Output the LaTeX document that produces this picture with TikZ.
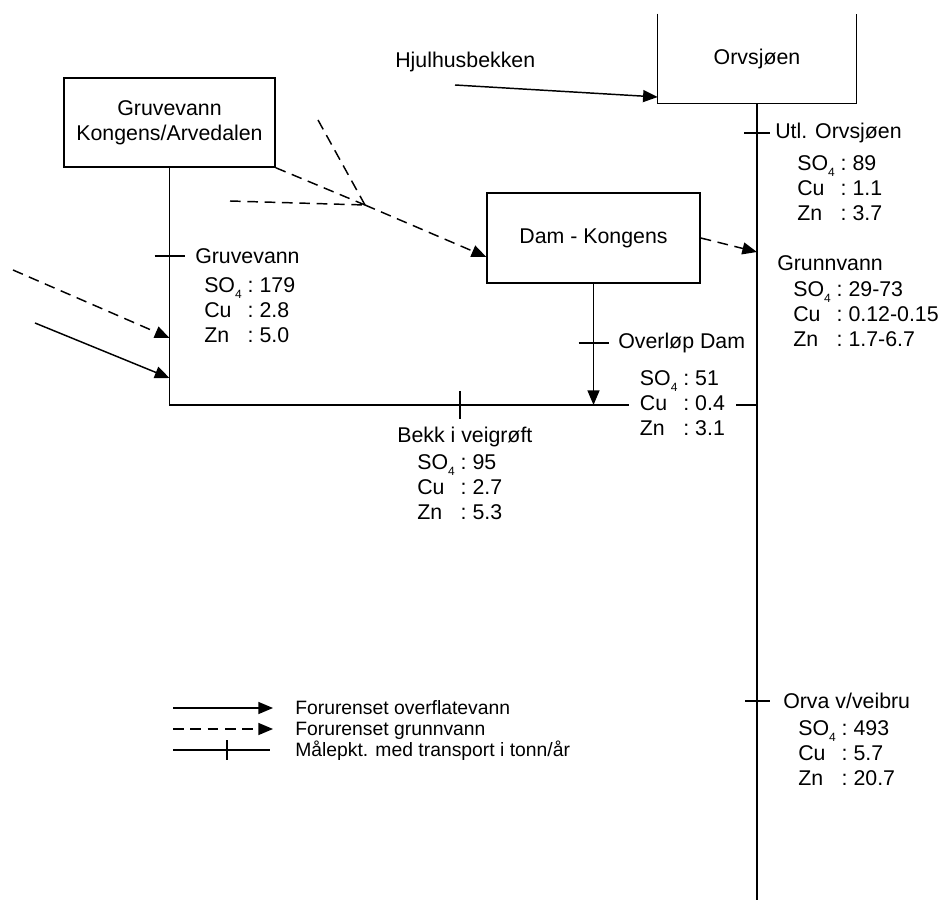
\documentclass[tikz,border=0pt]{standalone}
\usepackage{fontspec}
\setmainfont{Liberation Sans}
\usetikzlibrary{arrows.meta}

\newcommand{\sofire}{SO\raisebox{-0.55ex}{\fontsize{9}{9}\selectfont 4}}
\newcommand{\maaldata}[3]{\begin{tabular}{@{}l@{\ :\ }l@{}}\sofire & #1\\ Cu & #2\\ Zn & #3\end{tabular}}

\tikzset{
  linje/.style={line width=1.1pt},
  boks/.style={draw, line width=1.1pt, align=center, inner sep=0pt},
  flyt/.style={linje, -{Triangle[length=11pt,width=9pt]}},
  stiplet/.style={linje, dash pattern=on 8pt off 5pt},
  grunn/.style={stiplet, -{Triangle[length=11pt,width=9pt]}},
  tekst/.style={inner sep=0pt, anchor=west},
  data/.style={inner sep=0pt, anchor=north west},
  forklaring/.style={inner sep=0pt, anchor=base west, font=\fontsize{14.5}{16}\selectfont},
}

\begin{document}
\begin{tikzpicture}[x=0.75pt,y=0.75pt,yscale=-1,xscale=1, every node/.append style={font=\fontsize{16}{18.75}\selectfont}]
\useasboundingbox (0,0) rectangle (943,909);

%Shape: Rectangle [Gruvevann]
\node[boks, minimum width=158.25pt, minimum height=66.75pt] (gruve) at (169.5,122.5) {Gruvevann\\Kongens/Arvedalen};
%Shape: Rectangle [Dam]
\node[boks, minimum width=159.75pt, minimum height=67.5pt] (dam) at (593.5,238) {Dam - Kongens};
%Shape: open box [Orvsjoen]
\node[inner sep=0pt, minimum width=148.5pt, minimum height=66.75pt] (orv) at (757,58.5) {Orvsjøen};
\draw[linje] (orv.north west) -- (orv.south west) -- (orv.south east) -- (orv.north east);

% coordinates
\coordinate (bunn) at (757,900);
\coordinate (hjorne) at (gruve.south |- 0,405);
\coordinate (samlet) at (orv.south |- 0,405);
\coordinate (damut) at (dam.south |- 0,405);
\coordinate (knekk) at (365,205);
\coordinate (g1) at (318,120);
\coordinate (g2) at (230,201);
\coordinate (grunnpkt) at (757,252);
\coordinate (v1) at (13,270);
\coordinate (inn1) at (gruve.south |- 0,338);
\coordinate (v2) at (35,323);
\coordinate (inn2) at (gruve.south |- 0,378);
\coordinate (h1) at (455,85);
\coordinate (hinn) at (orv.south west |- 0,97);

%Straight Lines
\draw[linje] (orv.south) -- (bunn);
\draw[linje] (gruve.south) -- (hjorne) -- (samlet);
\draw[flyt] (dam.south) -- (damut);
\draw[flyt] (h1) -- (hinn);
\draw[flyt] (v2) -- (inn2);
\draw[grunn] (v1) -- (inn1);
%Dashed Lines
\draw[stiplet] (gruve.south east) -- (knekk);
\draw[stiplet] (g1) -- (knekk);
\draw[stiplet] (g2) -- (knekk);
\draw[grunn] (knekk) -- (dam.190);
\draw[grunn] (dam.east) -- (grunnpkt);

%Ticks
\coordinate (mGruve) at (gruve.south |- 0,256);
\coordinate (mOverlop) at (dam.south |- 0,343);
\coordinate (mBekk) at (460,405);
\coordinate (mUtl) at (757,133);
\coordinate (mOrva) at (757,701);
\draw[linje] (mGruve) ++(-15,0) -- ++(30,0);
\draw[linje] (mOverlop) ++(-15,0) -- ++(30,0);
\draw[linje] (mBekk) ++(0,-14) -- ++(0,28);
\draw[linje] (mUtl) ++(-13,0) -- ++(26,0);
\draw[linje] (mOrva) ++(-12,0) -- ++(25,0);

% Text Node
\node[tekst] (hjul) at (395,62) {Hjulhusbekken};
% Text Node
\node[tekst] (tGruve) at (195,256) {Gruvevann};
\node[data] (dGruve) at (204,275) {\maaldata{179}{2.8}{5.0}};
% Text Node
\node[tekst] (tUtl) at (775,133) {Utl. Orvsjøen};
\node[data] (dUtl) at (797,153) {\maaldata{89}{1.1}{3.7}};
% Text Node
\node[tekst] (tGrunn) at (777,263) {Grunnvann};
\node[data] (dGrunn) at (793,279) {\maaldata{29-73}{0.12-0.15}{1.7-6.7}};
% Text Node
\node[tekst] (tOverlop) at (618,343) {Overløp Dam};
\node[data, fill=white, inner xsep=8pt] (dOverlop) at (629,368) {\maaldata{51}{0.4}{3.1}};
% Text Node
\node[tekst] (tBekk) at (397,437) {Bekk i veigrøft};
\node[data] (dBekk) at (417,452) {\maaldata{95}{2.7}{5.3}};
% Text Node
\node[tekst] (tOrva) at (783,701) {Orva v/veibru};
\node[data] (dOrva) at (798,718) {\maaldata{493}{5.7}{20.7}};

%Legend
\coordinate (l1a) at (173,708); \coordinate (l1b) at (273,708);
\coordinate (l2a) at (173,729); \coordinate (l2b) at (273,729);
\coordinate (l3a) at (173,750); \coordinate (l3b) at (270,750);
\coordinate (l3m) at (227,750);
\draw[flyt] (l1a) -- (l1b);
\draw[grunn] (l2a) -- (l2b);
\draw[linje] (l3a) -- (l3b);
\draw[linje] (l3m) ++(0,-10) -- ++(0,20);
\node[forklaring] (leg1) at (295,714) {Forurenset overflatevann};
\node[forklaring] (leg2) at (295,735) {Forurenset grunnvann};
\node[forklaring] (leg3) at (295,756) {Målepkt. med transport i tonn/år};

\end{tikzpicture}
\end{document}
